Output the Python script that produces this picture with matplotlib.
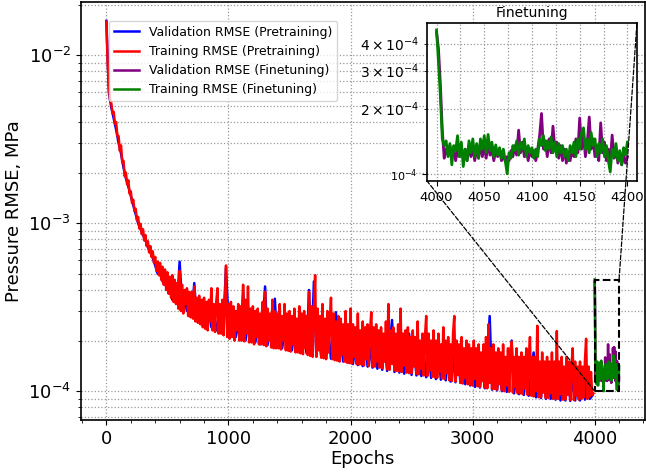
import numpy as np
import matplotlib
matplotlib.use('Agg')
import matplotlib.pyplot as plt
from matplotlib.patches import Rectangle, ConnectionPatch
from matplotlib.ticker import MultipleLocator

# RMSE values, in units of 1e-4 MPa
# training (pretraining): one value every 10 epochs (0 .. 3990)
pre_train = [
    158, 92, 66, 54, 52, 45, 46, 39, 40, 33,
    33, 27, 29, 23, 23.5, 19, 20, 17, 18, 15,
    15.5, 13.2, 13.8, 11.8, 12.2, 10.4, 10.9, 9.3, 9.9, 8.6,
    9.2, 7.9, 8.5, 7.3, 7.8, 6.7, 7.3, 6.3, 6.8, 5.8,
    6.3, 5.2, 5.9, 4.9, 5.8, 4.6, 5.5, 4.3, 5.3, 4.0,
    5.1, 3.8, 4.8, 3.6, 4.9, 3.4, 4.6, 3.3, 4.4, 3.1,
    5.2, 3.0, 4.3, 2.9, 4.0, 3.3, 4.1, 2.8, 3.9, 2.75,
    3.9, 2.7, 4.2, 2.6, 3.6, 2.55, 3.7, 2.5, 3.5, 2.4,
    3.6, 2.35, 3.4, 2.3, 3.5, 2.6, 4.1, 2.3, 3.3, 2.25,
    3.4, 4.1, 2.2, 3.3, 2.2, 3.5, 2.15, 3.2, 5.6, 2.1,
    3.3, 2.05, 3.4, 2.1, 3.2, 2.0, 3.0, 2.3, 3.3, 2.0,
    3.2, 2.0, 4.3, 1.98, 3.5, 2.2, 4.2, 1.95, 3.1, 1.95,
    3.2, 1.9, 3.0, 2.1, 3.1, 1.9, 2.9, 1.9, 3.4, 1.88,
    3.9, 1.85, 3.1, 2.0, 2.9, 1.82, 3.5, 1.8, 3.0, 1.8,
    2.9, 1.8, 3.3, 1.77, 2.8, 2.0, 3.3, 1.75, 2.9, 1.74,
    3.0, 1.72, 2.8, 1.9, 3.1, 1.7, 2.7, 1.7, 3.2, 1.68,
    2.9, 1.66, 3.0, 1.8, 2.8, 1.64, 3.9, 1.62, 3.2, 1.6,
    3.0, 4.9, 1.6, 3.1, 1.75, 2.8, 1.58, 3.3, 1.57, 2.7,
    1.55, 3.0, 1.7, 2.6, 3.6, 1.55, 2.9, 1.53, 2.6, 1.52,
    2.8, 1.5, 2.7, 1.65, 2.5, 1.5, 3.0, 1.48, 2.5, 1.47,
    3.1, 1.46, 2.5, 1.6, 2.4, 1.45, 2.9, 1.44, 2.3, 1.44,
    2.6, 1.42, 2.4, 1.55, 2.5, 1.41, 2.3, 2.95, 1.4, 2.4,
    1.4, 2.5, 1.5, 2.3, 1.38, 2.4, 1.37, 2.2, 1.5, 2.6,
    1.35, 3.3, 1.34, 2.3, 1.45, 2.4, 1.33, 2.2, 1.32, 2.5,
    1.31, 3.1, 1.3, 2.2, 1.42, 2.3, 1.29, 2.4, 1.28, 2.1,
    1.28, 2.3, 1.4, 2.1, 1.27, 2.6, 1.26, 2.0, 1.36, 2.2,
    1.24, 2.1, 2.8, 1.23, 2.2, 1.33, 2.0, 1.22, 2.3, 1.21,
    2.0, 1.2, 2.2, 1.3, 1.9, 1.19, 2.4, 1.18, 2.0, 1.28,
    2.1, 1.16, 1.9, 1.15, 2.2, 2.8, 1.14, 2.0, 1.25, 1.9,
    1.12, 2.1, 1.11, 1.8, 1.2, 2.0, 1.1, 1.9, 1.09, 1.8,
    1.08, 2.0, 1.18, 1.8, 1.07, 1.9, 1.06, 1.7, 1.15, 1.9,
    1.05, 2.1, 1.04, 2.5, 1.12, 1.8, 1.03, 1.9, 1.03, 1.7,
    1.02, 1.8, 1.1, 1.7, 1.01, 1.9, 1.0, 1.6, 1.08, 1.8,
    0.99, 1.7, 1.97, 0.98, 1.6, 1.06, 1.8, 0.97, 1.6, 0.97,
    1.7, 0.96, 1.6, 1.04, 1.8, 0.95, 1.5, 2.1, 0.94, 1.6,
    0.93, 1.6, 1.0, 2.45, 0.92, 1.5, 0.92, 1.7, 0.98, 1.5,
    0.91, 1.6, 0.91, 1.5, 0.97, 1.7, 0.9, 1.5, 0.9, 2.28,
    0.9, 1.5, 0.96, 1.6, 0.89, 1.4, 0.89, 1.6, 0.95, 1.5,
    0.885, 1.4, 1.8, 0.885, 1.5, 0.94, 1.4, 0.89, 1.5, 0.9,
    1.4, 0.92, 1.5, 2.05, 0.9, 1.4, 0.93, 1.3, 0.95, 0.97,
]
# validation (pretraining): one value every 20 epochs (0 .. 3980)
pre_val = [
    160, 60, 49, 42, 36, 30, 26, 21.5, 18.5, 16.5,
    14.5, 12.8, 11.3, 10.0, 9.2, 8.5, 7.9, 7.2, 6.7, 6.2,
    5.6, 5.0, 5.0, 4.5, 4.4, 4.0, 4.0, 3.5, 3.8, 3.3,
    5.9, 3.3, 3.5, 3.0, 3.3, 2.9, 4.4, 2.7, 3.1, 2.6,
    3.0, 2.5, 3.0, 2.4, 2.8, 2.3, 2.8, 2.25, 2.7, 5.4,
    2.6, 2.15, 2.6, 2.1, 2.5, 2.05, 3.9, 2.0, 2.6, 2.0,
    2.5, 1.95, 2.4, 1.9, 2.4, 4.2, 1.88, 2.4, 1.85, 3.55,
    1.82, 2.3, 1.8, 2.3, 1.77, 2.2, 1.75, 2.3, 1.72, 2.2,
    1.7, 2.2, 1.68, 4.0, 1.65, 4.5, 1.62, 2.2, 1.6, 2.1,
    1.58, 2.2, 1.56, 2.1, 2.95, 1.53, 2.0, 1.5, 2.1, 1.48,
    2.0, 1.45, 1.9, 1.43, 2.0, 1.41, 1.9, 1.4, 1.8, 1.38,
    1.9, 1.36, 1.8, 1.34, 1.9, 1.32, 1.8, 2.65, 1.3, 1.8,
    1.29, 1.8, 1.27, 1.7, 2.2, 1.25, 1.8, 1.24, 1.7, 1.23,
    1.7, 1.21, 1.7, 1.2, 1.6, 1.18, 1.7, 1.17, 1.6, 1.16,
    1.6, 1.14, 1.6, 1.13, 1.7, 1.12, 1.5, 1.1, 1.5, 1.08,
    1.5, 1.06, 1.5, 1.05, 1.4, 1.04, 1.5, 2.8, 1.02, 1.4,
    1.01, 1.4, 1.0, 1.4, 0.99, 1.4, 2.0, 0.97, 1.3, 0.96,
    1.3, 0.95, 1.4, 0.94, 1.3, 1.7, 0.92, 1.3, 0.91, 1.3,
    0.9, 1.3, 0.9, 1.3, 0.89, 1.3, 0.88, 1.25, 0.88, 1.3,
    0.875, 1.2, 0.88, 1.25, 0.88, 1.2, 0.89, 1.3, 0.9, 0.94,
]
# finetuning: one value every 2 epochs (4000 .. 4200)
ft_train = [
    4.62, 3.3, 2.3, 1.45, 1.35, 1.42, 1.2, 1.38, 1.1, 1.35,
    1.28, 1.5, 1.2, 1.4, 1.08, 1.3, 1.15, 1.42, 1.25, 1.45,
    1.2, 1.38, 1.18, 1.45, 1.3, 1.5, 1.25, 1.52, 1.28, 1.4,
    1.2, 1.36, 1.22, 1.32, 1.18, 1.3, 1.15, 1.0, 1.25, 1.18,
    1.35, 1.28, 1.42, 1.22, 1.4, 1.3, 1.45, 1.2, 1.35, 1.25,
    1.32, 1.18, 1.3, 1.2, 1.45, 1.35, 1.5, 1.28, 1.42, 1.3,
    1.48, 1.25, 1.4, 1.2, 1.38, 1.25, 1.35, 1.2, 1.3, 1.15,
    1.35, 1.25, 1.4, 1.2, 1.45, 1.3, 1.55, 1.63, 1.3, 1.45,
    1.25, 1.55, 1.35, 1.45, 1.2, 1.38, 1.25, 1.45, 1.2, 1.35,
    1.15, 1.02, 1.3, 1.2, 1.38, 1.15, 1.28, 1.1, 1.32, 1.22,
    1.4,
]
ft_val = [
    4.5, 3.8, 2.6, 1.6, 1.18, 1.3, 1.22, 1.35, 1.2, 1.3,
    1.15, 1.28, 1.2, 1.32, 1.18, 1.3, 1.15, 1.35, 1.2, 1.32,
    1.15, 1.3, 1.18, 1.38, 1.2, 1.35, 1.18, 1.4, 1.22, 1.3,
    1.15, 1.28, 1.2, 1.3, 1.15, 1.22, 1.14, 1.2, 1.15, 1.28,
    1.2, 1.35, 1.22, 1.59, 1.25, 1.4, 1.2, 1.32, 1.15, 1.3,
    1.2, 1.28, 1.15, 1.3, 1.5, 1.9, 1.3, 1.42, 1.2, 1.45,
    1.25, 1.66, 1.3, 1.4, 1.18, 1.35, 1.15, 1.3, 1.12, 1.25,
    1.15, 1.3, 1.2, 1.45, 1.25, 1.81, 1.3, 1.5, 1.2, 1.4,
    1.83, 1.3, 1.45, 1.2, 1.35, 1.15, 1.72, 1.25, 1.4, 1.15,
    1.3, 1.12, 1.51, 1.18, 1.3, 1.12, 1.25, 1.1, 1.22, 1.12,
    1.2,
]

train_epochs = np.arange(0, 4000, 10)
val_epochs = np.arange(0, 4000, 20)
ft_epochs = np.arange(4000, 4201, 2)
scale = 1e-4
pre_train = np.array(pre_train) * scale
pre_val = np.array(pre_val) * scale
ft_train = np.array(ft_train) * scale
ft_val = np.array(ft_val) * scale

plt.rcParams['axes.linewidth'] = 1.2

fig = plt.figure(figsize=(6.46, 4.75), dpi=100)
ax = fig.add_axes([0.125, 0.116, 0.873, 0.88])

ax.plot(val_epochs, pre_val, color='blue', lw=1.8, label='Validation RMSE (Pretraining)')
ax.plot(train_epochs, pre_train, color='red', lw=1.8, label='Training RMSE (Pretraining)')
ax.plot(ft_epochs, ft_val, color='purple', lw=1.8, label='Validation RMSE (Finetuning)')
ax.plot(ft_epochs, ft_train, color='green', lw=1.8, label='Training RMSE (Finetuning)')
ax.set_yscale('log')
ax.xaxis.set_minor_locator(MultipleLocator(200))
ax.grid(True, which='major', ls=':', color='0.6', lw=0.9)
ax.grid(True, which='minor', axis='y', ls=':', color='0.6', lw=0.9)
ax.tick_params(labelsize=13)
ax.set_xlabel('Epochs', fontsize=13, labelpad=2)
ax.set_ylabel('Pressure RMSE, MPa', fontsize=13)
ax.legend(loc='upper left', bbox_to_anchor=(0.05, 0.955), borderaxespad=0,
          fontsize=9, handlelength=2.0)

# dashed box around the finetuning part
x0, x1 = ft_epochs[0], ft_epochs[-1]
y0, y1 = min(ft_train.min(), ft_val.min()), max(ft_train.max(), ft_val.max())
ax.add_patch(Rectangle((x0, y0), x1 - x0, y1 - y0, fill=False, ls='--',
                       lw=1.5, ec='black', zorder=5))

# inset
axin = fig.add_axes([0.661, 0.619, 0.325, 0.333])
axin.plot(ft_epochs, ft_val, color='purple', lw=2)
axin.plot(ft_epochs, ft_train, color='green', lw=2)
axin.set_yscale('log')
axin.xaxis.set_major_locator(MultipleLocator(50))
axin.xaxis.set_minor_locator(MultipleLocator(25))
axin.grid(True, which='both', ls=':', color='0.6', lw=0.9)
axin.tick_params(axis='x', labelsize=9.5)
axin.tick_params(axis='y', which='major', labelsize=8)
axin.tick_params(axis='y', which='minor', labelsize=10)
axin.set_title('Finetuning', fontsize=10, pad=4)

for xa, ya, xb, yb in [(x0, y0, 0, 0), (x1, y1, 1, 1)]:
    con = ConnectionPatch(xyA=(xa, ya), coordsA=ax.transData,
                          xyB=(xb, yb), coordsB=axin.transAxes,
                          color='black', lw=0.9, ls='--')
    fig.add_artist(con)

fig.savefig('out.png', dpi=100)
